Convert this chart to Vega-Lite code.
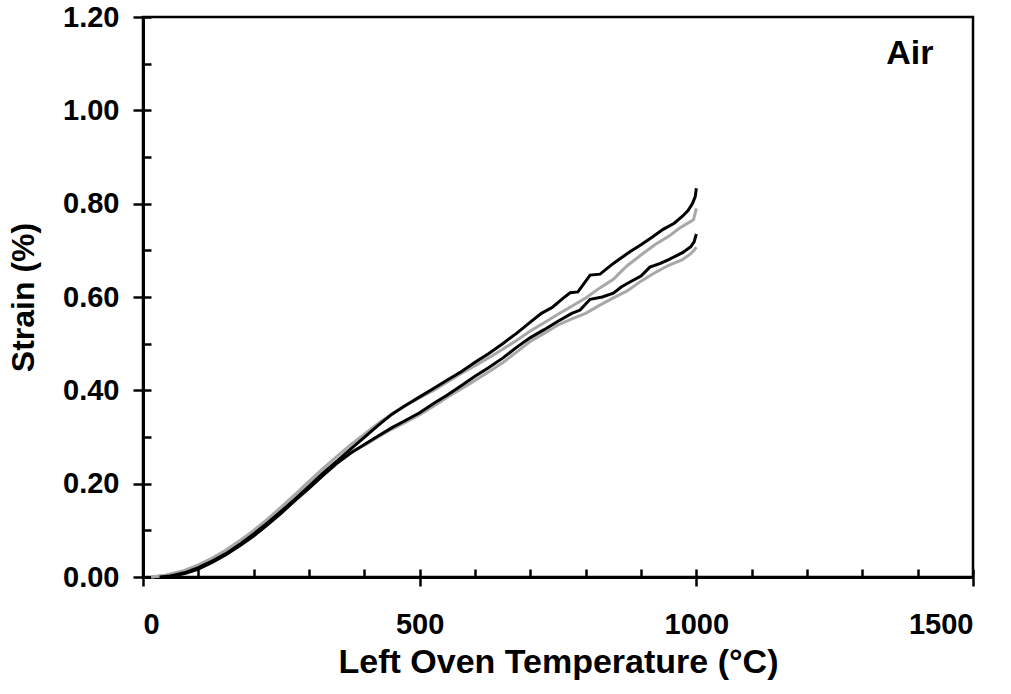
{
  "$schema": "https://vega.github.io/schema/vega-lite/v6.json",
  "width": 830,
  "height": 560,
  "autosize": {"type": "none"},
  "padding": {"left": 143, "top": 17, "right": 38, "bottom": 117},
  "background": "white",
  "config": {
    "view": {"stroke": "black", "strokeWidth": 2.5},
    "font": "Liberation Sans"
  },
  "datasets": {
    "curves": [
      {"s": "S4", "t": 15, "v": 0}, {"s": "S4", "t": 40, "v": 0.004}, {"s": "S4", "t": 75, "v": 0.014}, {"s": "S4", "t": 100, "v": 0.026}, {"s": "S4", "t": 125, "v": 0.04}, {"s": "S4", "t": 150, "v": 0.056}, {"s": "S4", "t": 175, "v": 0.076}, {"s": "S4", "t": 200, "v": 0.097}, {"s": "S4", "t": 225, "v": 0.121}, {"s": "S4", "t": 250, "v": 0.146}, {"s": "S4", "t": 275, "v": 0.172}, {"s": "S4", "t": 300, "v": 0.198}, {"s": "S4", "t": 325, "v": 0.224}, {"s": "S4", "t": 350, "v": 0.248}, {"s": "S4", "t": 375, "v": 0.268}, {"s": "S4", "t": 400, "v": 0.282}, {"s": "S4", "t": 425, "v": 0.3}, {"s": "S4", "t": 450, "v": 0.317}, {"s": "S4", "t": 475, "v": 0.332}, {"s": "S4", "t": 500, "v": 0.348}, {"s": "S4", "t": 525, "v": 0.366}, {"s": "S4", "t": 550, "v": 0.385}, {"s": "S4", "t": 575, "v": 0.403}, {"s": "S4", "t": 600, "v": 0.421}, {"s": "S4", "t": 625, "v": 0.44}, {"s": "S4", "t": 650, "v": 0.459}, {"s": "S4", "t": 675, "v": 0.482}, {"s": "S4", "t": 700, "v": 0.505}, {"s": "S4", "t": 725, "v": 0.522}, {"s": "S4", "t": 750, "v": 0.54}, {"s": "S4", "t": 775, "v": 0.553}, {"s": "S4", "t": 800, "v": 0.565}, {"s": "S4", "t": 825, "v": 0.582}, {"s": "S4", "t": 850, "v": 0.598}, {"s": "S4", "t": 875, "v": 0.613}, {"s": "S4", "t": 900, "v": 0.634}, {"s": "S4", "t": 925, "v": 0.652}, {"s": "S4", "t": 950, "v": 0.668}, {"s": "S4", "t": 975, "v": 0.68}, {"s": "S4", "t": 990, "v": 0.693}, {"s": "S4", "t": 996, "v": 0.7}, {"s": "S4", "t": 1000, "v": 0.707},
      {"s": "S2", "t": 15, "v": 0}, {"s": "S2", "t": 40, "v": 0.003}, {"s": "S2", "t": 75, "v": 0.012}, {"s": "S2", "t": 100, "v": 0.025}, {"s": "S2", "t": 125, "v": 0.04}, {"s": "S2", "t": 150, "v": 0.058}, {"s": "S2", "t": 175, "v": 0.078}, {"s": "S2", "t": 200, "v": 0.1}, {"s": "S2", "t": 225, "v": 0.124}, {"s": "S2", "t": 250, "v": 0.15}, {"s": "S2", "t": 275, "v": 0.177}, {"s": "S2", "t": 300, "v": 0.205}, {"s": "S2", "t": 325, "v": 0.232}, {"s": "S2", "t": 350, "v": 0.258}, {"s": "S2", "t": 375, "v": 0.283}, {"s": "S2", "t": 400, "v": 0.306}, {"s": "S2", "t": 425, "v": 0.329}, {"s": "S2", "t": 450, "v": 0.35}, {"s": "S2", "t": 475, "v": 0.368}, {"s": "S2", "t": 500, "v": 0.384}, {"s": "S2", "t": 525, "v": 0.4}, {"s": "S2", "t": 550, "v": 0.418}, {"s": "S2", "t": 575, "v": 0.436}, {"s": "S2", "t": 600, "v": 0.453}, {"s": "S2", "t": 625, "v": 0.47}, {"s": "S2", "t": 650, "v": 0.488}, {"s": "S2", "t": 675, "v": 0.507}, {"s": "S2", "t": 700, "v": 0.527}, {"s": "S2", "t": 725, "v": 0.545}, {"s": "S2", "t": 750, "v": 0.563}, {"s": "S2", "t": 775, "v": 0.58}, {"s": "S2", "t": 800, "v": 0.598}, {"s": "S2", "t": 825, "v": 0.619}, {"s": "S2", "t": 850, "v": 0.638}, {"s": "S2", "t": 875, "v": 0.667}, {"s": "S2", "t": 900, "v": 0.69}, {"s": "S2", "t": 925, "v": 0.712}, {"s": "S2", "t": 950, "v": 0.73}, {"s": "S2", "t": 970, "v": 0.748}, {"s": "S2", "t": 990, "v": 0.762}, {"s": "S2", "t": 995, "v": 0.766}, {"s": "S2", "t": 1000, "v": 0.79},
      {"s": "S3", "t": 40, "v": 0}, {"s": "S3", "t": 60, "v": 0.003}, {"s": "S3", "t": 80, "v": 0.009}, {"s": "S3", "t": 100, "v": 0.017}, {"s": "S3", "t": 125, "v": 0.031}, {"s": "S3", "t": 150, "v": 0.048}, {"s": "S3", "t": 175, "v": 0.067}, {"s": "S3", "t": 200, "v": 0.088}, {"s": "S3", "t": 225, "v": 0.112}, {"s": "S3", "t": 250, "v": 0.137}, {"s": "S3", "t": 275, "v": 0.164}, {"s": "S3", "t": 300, "v": 0.19}, {"s": "S3", "t": 325, "v": 0.217}, {"s": "S3", "t": 350, "v": 0.243}, {"s": "S3", "t": 375, "v": 0.265}, {"s": "S3", "t": 400, "v": 0.284}, {"s": "S3", "t": 425, "v": 0.302}, {"s": "S3", "t": 450, "v": 0.32}, {"s": "S3", "t": 475, "v": 0.336}, {"s": "S3", "t": 500, "v": 0.352}, {"s": "S3", "t": 525, "v": 0.372}, {"s": "S3", "t": 550, "v": 0.39}, {"s": "S3", "t": 575, "v": 0.41}, {"s": "S3", "t": 600, "v": 0.43}, {"s": "S3", "t": 625, "v": 0.449}, {"s": "S3", "t": 650, "v": 0.469}, {"s": "S3", "t": 675, "v": 0.492}, {"s": "S3", "t": 700, "v": 0.513}, {"s": "S3", "t": 725, "v": 0.53}, {"s": "S3", "t": 750, "v": 0.548}, {"s": "S3", "t": 775, "v": 0.565}, {"s": "S3", "t": 790, "v": 0.572}, {"s": "S3", "t": 808, "v": 0.595}, {"s": "S3", "t": 830, "v": 0.6}, {"s": "S3", "t": 850, "v": 0.608}, {"s": "S3", "t": 865, "v": 0.622}, {"s": "S3", "t": 880, "v": 0.632}, {"s": "S3", "t": 900, "v": 0.645}, {"s": "S3", "t": 916, "v": 0.664}, {"s": "S3", "t": 935, "v": 0.672}, {"s": "S3", "t": 950, "v": 0.68}, {"s": "S3", "t": 975, "v": 0.695}, {"s": "S3", "t": 990, "v": 0.708}, {"s": "S3", "t": 996, "v": 0.718}, {"s": "S3", "t": 1000, "v": 0.735},
      {"s": "S1", "t": 30, "v": 0}, {"s": "S1", "t": 50, "v": 0.002}, {"s": "S1", "t": 75, "v": 0.009}, {"s": "S1", "t": 100, "v": 0.02}, {"s": "S1", "t": 125, "v": 0.034}, {"s": "S1", "t": 150, "v": 0.05}, {"s": "S1", "t": 175, "v": 0.07}, {"s": "S1", "t": 200, "v": 0.092}, {"s": "S1", "t": 225, "v": 0.116}, {"s": "S1", "t": 250, "v": 0.141}, {"s": "S1", "t": 275, "v": 0.167}, {"s": "S1", "t": 300, "v": 0.194}, {"s": "S1", "t": 325, "v": 0.222}, {"s": "S1", "t": 350, "v": 0.248}, {"s": "S1", "t": 375, "v": 0.274}, {"s": "S1", "t": 400, "v": 0.299}, {"s": "S1", "t": 425, "v": 0.325}, {"s": "S1", "t": 450, "v": 0.349}, {"s": "S1", "t": 475, "v": 0.368}, {"s": "S1", "t": 500, "v": 0.386}, {"s": "S1", "t": 525, "v": 0.404}, {"s": "S1", "t": 550, "v": 0.422}, {"s": "S1", "t": 575, "v": 0.44}, {"s": "S1", "t": 600, "v": 0.46}, {"s": "S1", "t": 625, "v": 0.479}, {"s": "S1", "t": 650, "v": 0.5}, {"s": "S1", "t": 675, "v": 0.522}, {"s": "S1", "t": 700, "v": 0.546}, {"s": "S1", "t": 720, "v": 0.565}, {"s": "S1", "t": 740, "v": 0.578}, {"s": "S1", "t": 760, "v": 0.598}, {"s": "S1", "t": 772, "v": 0.609}, {"s": "S1", "t": 786, "v": 0.611}, {"s": "S1", "t": 808, "v": 0.647}, {"s": "S1", "t": 826, "v": 0.649}, {"s": "S1", "t": 850, "v": 0.672}, {"s": "S1", "t": 880, "v": 0.697}, {"s": "S1", "t": 900, "v": 0.712}, {"s": "S1", "t": 920, "v": 0.728}, {"s": "S1", "t": 940, "v": 0.745}, {"s": "S1", "t": 960, "v": 0.758}, {"s": "S1", "t": 975, "v": 0.773}, {"s": "S1", "t": 985, "v": 0.785}, {"s": "S1", "t": 993, "v": 0.8}, {"s": "S1", "t": 998, "v": 0.815}, {"s": "S1", "t": 1000, "v": 0.833}
    ],
    "labels": [{"label": "Air", "t": 1386, "v": 1.12}]
  },
  "layer": [
    {
      "data": {"name": "curves"},
      "mark": {"type": "line", "strokeWidth": 3, "interpolate": "linear"},
      "encoding": {
        "x": {
          "field": "t", "type": "quantitative",
          "scale": {"domain": [0, 1500], "nice": false},
          "axis": {
            "orient": "bottom",
            "values": [0, 500, 1000, 1500], "format": "d",
            "grid": false,
            "domainColor": "black", "domainWidth": 3,
            "tickColor": "black", "tickWidth": 2.5, "tickSize": 9,
            "labelFont": "Liberation Sans", "labelFontWeight": "bold", "labelFontSize": 29, "labelColor": "black",
            "labelPadding": 24,
            "title": "Left Oven Temperature (°C)",
            "titleFont": "Liberation Sans", "titleFontWeight": "bold", "titleFontSize": 34, "titleColor": "black",
            "titlePadding": 6
          }
        },
        "y": {
          "field": "v", "type": "quantitative",
          "scale": {"domain": [0, 1.2], "nice": false},
          "axis": {
            "orient": "left",
            "values": [0, 0.2, 0.4, 0.6, 0.8, 1.0, 1.2], "format": ".2f",
            "grid": false,
            "domainColor": "black", "domainWidth": 3,
            "tickColor": "black", "tickWidth": 2.5, "tickSize": 10,
            "labelFont": "Liberation Sans", "labelFontWeight": "bold", "labelFontSize": 29, "labelColor": "black",
            "labelPadding": 14,
            "title": "Strain (%)",
            "titleFont": "Liberation Sans", "titleFontWeight": "bold", "titleFontSize": 32, "titleColor": "black",
            "titlePadding": 22
          }
        },
        "color": {
          "field": "s", "type": "nominal",
          "scale": {"domain": ["S1", "S2", "S3", "S4"], "range": ["#000000", "#a8a8a8", "#000000", "#a8a8a8"]},
          "legend": null
        },
        "order": {"field": "t", "type": "quantitative"}
      }
    },
    {
      "data": {"name": "labels"},
      "mark": {"type": "text", "font": "Liberation Sans", "fontWeight": "bold", "fontSize": 34, "color": "black", "align": "center", "baseline": "middle"},
      "encoding": {
        "x": {
          "field": "t", "type": "quantitative",
          "scale": {"domain": [0, 1500], "nice": false},
          "axis": {
            "orient": "bottom",
            "values": [0, 100, 200, 300, 400, 500, 600, 700, 800, 900, 1000, 1100, 1200, 1300, 1400, 1500],
            "grid": false, "domain": false, "labels": false, "title": null,
            "tickColor": "black", "tickWidth": 2.5, "tickSize": -8
          }
        },
        "y": {
          "field": "v", "type": "quantitative",
          "scale": {"domain": [0, 1.2], "nice": false},
          "axis": {
            "orient": "left",
            "values": [0, 0.1, 0.2, 0.3, 0.4, 0.5, 0.6, 0.7, 0.8, 0.9, 1.0, 1.1, 1.2],
            "grid": false, "domain": false, "labels": false, "title": null,
            "tickColor": "black", "tickWidth": 2.5, "tickSize": -8
          }
        },
        "text": {"field": "label", "type": "nominal"}
      }
    }
  ],
  "resolve": {"axis": {"x": "independent", "y": "independent"}}
}
